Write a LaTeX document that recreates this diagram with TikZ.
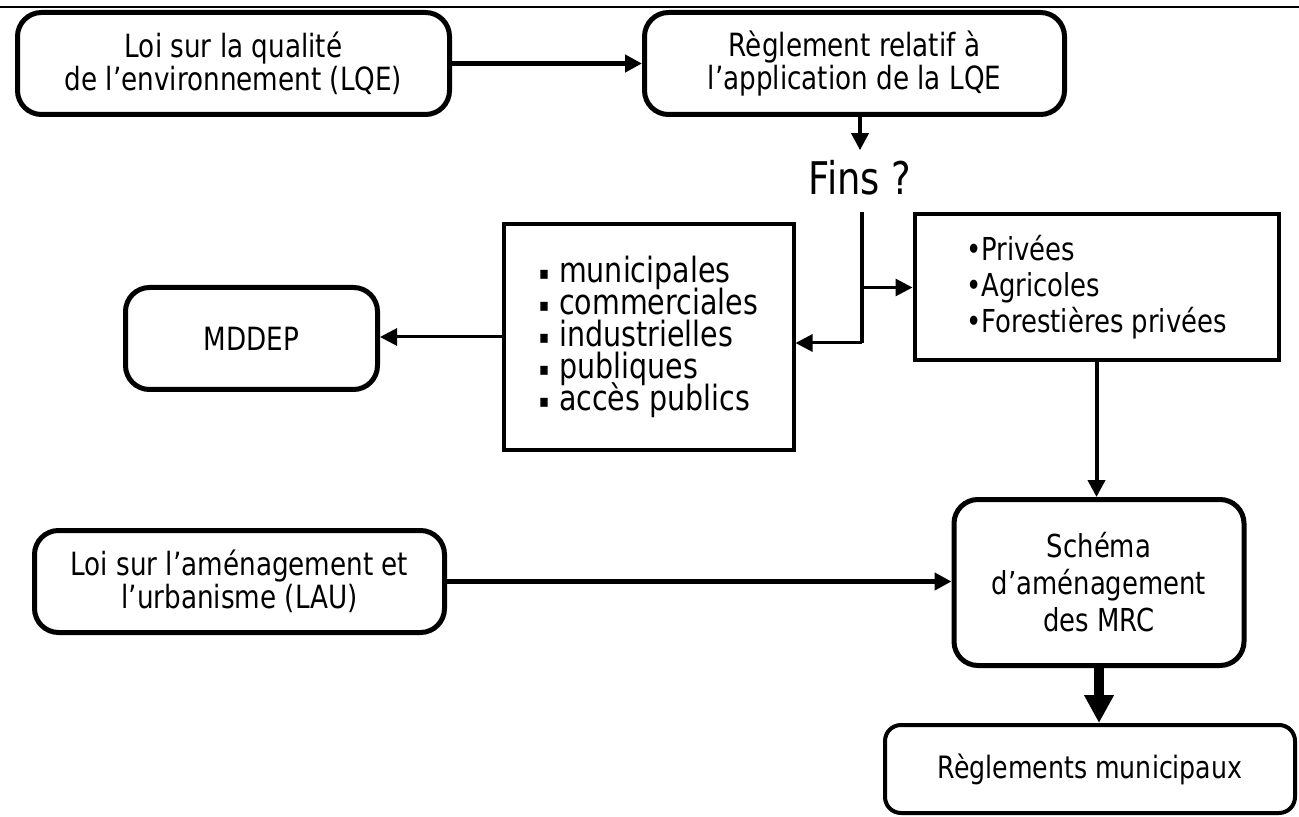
\documentclass[tikz,border=0pt]{standalone}
\usepackage{fontspec}
\setmainfont{DejaVu Sans}[FakeStretch=0.82]
\usetikzlibrary{arrows.meta}
\newcommand{\puce}{{\fontsize{9}{9}\selectfont\raisebox{1.5pt}{▪}}\hspace{5pt}}
\newcommand{\serre}{\setlength{\lineskiplimit}{-20pt}}

\begin{document}
\begin{tikzpicture}[x=0.5pt,y=-0.5pt,
    loibox/.style={draw,line width=2.5pt,rounded corners=12pt,align=center,
      inner sep=0pt,font=\fontsize{16}{16.5}\selectfont},
    listbox/.style={draw,line width=2pt,align=left,inner sep=0pt},
    fleche/.style={line width=#1,-{Triangle[length=8.5pt,width=8.5pt]}},
    fleche/.default=1.8pt,
    grosse/.style={line width=5pt,-{Triangle[length=14pt,width=14pt]}}]
  \useasboundingbox (0,0) rectangle (1299,817);
  \draw[line width=1pt] (0,7) -- (1299,7);
  % boites
  \node[loibox,minimum width=216pt,minimum height=51pt] (lqe) at (233.5,63.5)
    {Loi sur la qualité\\de l’environnement (LQE)};
  \node[loibox,minimum width=210pt,minimum height=51pt] (rla) at (854.5,63.5)
    {Règlement relatif à\\l’application de la LQE};
  \node[inner sep=0pt,font=\fontsize{22.5}{24}\selectfont] (fins) at (860,178) {Fins ?};
  \node[listbox,minimum width=145pt,minimum height=113pt,
    font=\fontsize{17.4}{16}\selectfont\serre] (list) at (648.5,337)
    {\puce municipales\\\puce commerciales\\\puce industrielles\\\puce publiques\\\puce accès publics};
  \node[listbox,minimum width=182pt,minimum height=73pt,
    font=\fontsize{15.8}{18}\selectfont] (priv) at (1096.5,287.5)
    {•Privées\\•Agricoles\\•Forestières privées};
  \node[loibox,minimum width=126pt,minimum height=51pt] (mddep) at (251.5,338.5) {MDDEP};
  \node[loibox,minimum width=205pt,minimum height=51pt] (lau) at (239.5,581.5)
    {Loi sur l’aménagement et\\l’urbanisme (LAU)};
  \node[loibox,minimum width=145pt,minimum height=83pt,
    font=\fontsize{15.8}{18.5}\selectfont] (schema) at (1099,582.5)
    {Schéma\\d’aménagement\\des MRC};
  \node[loibox,line width=2pt,rounded corners=8pt,minimum width=205pt,minimum height=44pt,
    font=\fontsize{15.4}{16}\selectfont] (regl) at (1090,769) {Règlements municipaux};
  % liens
  \coordinate (haut) at (862,212);
  \coordinate (bas) at (862,343);
  \draw[fleche=2.5pt] (lqe) -- (rla);
  \draw[fleche] (fins.north |- rla.south) -- ([yshift=5pt]fins.north);
  \draw[line width=1.8pt] (haut) -- (bas);
  \draw[fleche=1.5pt] (haut |- priv.west) -- (priv.west);
  \draw[fleche=1.5pt] (bas) -- (bas -| list.east);
  \draw[fleche=1.5pt] (list.west) -- (list.west -| mddep.east);
  \draw[fleche=2pt] (priv.south) -- (priv.south |- schema.north);
  \draw[fleche=2.2pt] (lau) -- (lau.east -| schema.west);
  \draw[grosse] (schema.south) -- (schema.south |- regl.north);
\end{tikzpicture}
\end{document}
